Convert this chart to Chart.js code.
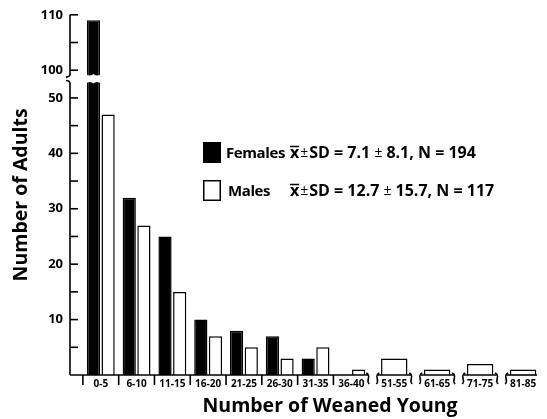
<!DOCTYPE html>
<html>
<head>
<meta charset="utf-8">
<script src="https://cdn.jsdelivr.net/npm/chart.js@4.4.1/dist/chart.umd.min.js"></script>
<style>
    html, body { margin: 0; padding: 0; background: #fff; }
</style>
</head>
<body>
<canvas id="weanedChart" width="547" height="419"></canvas>
<script>
// bins of weaned young, counts of adults per sex
const categories = ['0-5', '6-10', '11-15', '16-20', '21-25', '26-30', '31-35', '36-40', '51-55', '61-65', '71-75', '81-85'];
const females = [109, 32, 25, 10, 8, 7, 3, 0, null, null, null, null];
const males = [47, 27, 15, 7, 5, 3, 5, 1, 3, 1, 2, 1];

// y axis ticks (real values) and the ones that get a number
const yTicks = [5, 10, 15, 20, 25, 30, 35, 40, 45, 50, 100, 105, 110];
const yLabelled = [10, 20, 30, 40, 50, 100, 110];

const legendRows = [
    { label: 'Females', mean: '7.1', sd: '8.1', n: '194', filled: true },
    { label: 'Males', mean: '12.7', sd: '15.7', n: '117', filled: false }
];

// y axis is cut between 50 and 100
const BREAK_FROM = 50;
const BREAK_TO = 100;
const BREAK_GAP = 5;
const toAxis = v => (v === null ? null : v >= BREAK_TO ? v - (BREAK_TO - BREAK_FROM) + BREAK_GAP : v);

// x axis: contiguous bins are one unit apart, a gap in the ranges adds a little extra
const BREAK_EXTRA = 0.2;
const LEAD_GAP = 0.36; // space between the y axis and the first bin
const binLo = i => Number(categories[i].split('-')[0]);
const binHi = i => Number(categories[i].split('-')[1]);
const contiguous = categories.map((c, i) => i > 0 && binLo(i) === binHi(i - 1) + 1);
const binPos = [];
categories.forEach((c, i) => {
    if (i === 0) binPos.push(0);
    else binPos.push(binPos[i - 1] + (contiguous[i] ? 1 : 1 + BREAK_EXTRA));
});

const FONT = '"Open Sans", "DejaVu Sans", sans-serif';

const brokenAxes = {
    id: 'brokenAxes',
    afterDatasetsDraw(chart) {
        const { ctx, chartArea } = chart;
        const x = chart.scales.x;
        const y = chart.scales.y;
        const axisX = chartArea.left;
        const y0 = y.getPixelForValue(0);

        ctx.save();
        ctx.strokeStyle = '#000';
        ctx.lineWidth = 1.6;

        // white cut through the tall bar
        const gapTop = y.getPixelForValue(toAxis(BREAK_FROM) + 4.3);
        const gapBot = y.getPixelForValue(toAxis(BREAK_FROM) + 2.6);
        const bar = chart.getDatasetMeta(0).data[0];
        const bx0 = bar.x - bar.width / 2 - 1;
        const bx1 = bar.x + bar.width / 2 + 1;
        const bw = bx1 - bx0;
        ctx.fillStyle = '#fff';
        ctx.beginPath();
        ctx.moveTo(bx0, gapTop);
        ctx.quadraticCurveTo(bx0 + bw * 0.25, gapTop + 3, bx0 + bw * 0.5, gapTop);
        ctx.quadraticCurveTo(bx0 + bw * 0.75, gapTop + 3, bx1, gapTop);
        ctx.lineTo(bx1, gapBot);
        ctx.quadraticCurveTo(bx0 + bw * 0.75, gapBot - 3, bx0 + bw * 0.5, gapBot);
        ctx.quadraticCurveTo(bx0 + bw * 0.25, gapBot - 3, bx0, gapBot);
        ctx.closePath();
        ctx.fill();

        // y axis in two pieces with small curls at the cut
        ctx.beginPath();
        ctx.moveTo(axisX, y.getPixelForValue(y.max));
        ctx.lineTo(axisX, gapTop);
        ctx.quadraticCurveTo(axisX, gapTop + 3, axisX - 4, gapTop + 3);
        ctx.moveTo(axisX - 4, gapBot - 3);
        ctx.quadraticCurveTo(axisX, gapBot - 3, axisX, gapBot);
        ctx.lineTo(axisX, y0);
        ctx.stroke();

        // y ticks point into the plot
        y.ticks.forEach(t => {
            const py = y.getPixelForValue(t.value);
            ctx.beginPath();
            ctx.moveTo(axisX, py);
            ctx.lineTo(axisX + 8, py);
            ctx.stroke();
        });

        // x axis, one segment per contiguous run
        const half = (x.getPixelForValue(1) - x.getPixelForValue(0)) / 2;
        const brace = (bx, dir) => {
            ctx.beginPath();
            ctx.moveTo(bx - dir * 2, y0 - 2);
            ctx.bezierCurveTo(bx + dir * 4, y0 + 1, bx - dir * 3, y0 + 5, bx + dir * 1, y0 + 9);
            ctx.stroke();
        };
        let segStart = axisX;
        categories.forEach((c, i) => {
            const left = x.getPixelForValue(binPos[i]) - half;
            const right = x.getPixelForValue(binPos[i]) + half;
            if (i > 0 && !contiguous[i]) {
                segStart = left + 1;
                brace(segStart, -1);
            }
            if (i === 0 || contiguous[i]) {
                ctx.beginPath();
                ctx.moveTo(left, y0);
                ctx.lineTo(left, y0 + 10);
                ctx.stroke();
            }
            const last = i === categories.length - 1;
            if (last || !contiguous[i + 1]) {
                const segEnd = last ? right - 4 : right - 1;
                ctx.beginPath();
                ctx.moveTo(segStart, y0);
                ctx.lineTo(segEnd, y0);
                ctx.stroke();
                if (!last) brace(segEnd, 1);
            }
        });
        ctx.restore();
    },
    afterDraw(chart) {
        const { ctx } = chart;
        ctx.save();
        ctx.fillStyle = '#000';
        ctx.strokeStyle = '#000';
        ctx.lineWidth = 1.5;
        ctx.textBaseline = 'alphabetic';

        // x axis title, centred a little right of the plot centre as in the original
        ctx.textAlign = 'center';
        ctx.font = 'bold 19.5px ' + FONT;
        ctx.fillText('Number of Weaned Young', 330, 412);
        ctx.textAlign = 'left';

        legendRows.forEach((row, i) => {
            const cy = 152.5 + i * 38;
            if (row.filled) {
                ctx.fillRect(203, cy - 10.5, 18, 21);
            } else {
                ctx.strokeRect(203.75, cy - 9.75, 16.5, 19.5);
            }
            const base = cy + 5.5;
            ctx.font = 'bold 15px ' + FONT;
            ctx.letterSpacing = '-0.4px';
            ctx.fillText(row.label, 226 + i * 2, base);
            ctx.letterSpacing = '0px';

            // x-bar with plus/minus
            let sx = 290;
            ctx.font = 'bold 16px ' + FONT;
            ctx.fillText('x', sx, base);
            const xw = ctx.measureText('x').width;
            ctx.beginPath();
            ctx.moveTo(sx, base - 11.5);
            ctx.lineTo(sx + xw, base - 11.5);
            ctx.stroke();
            sx += xw + 1;
            ctx.font = '14px ' + FONT;
            ctx.fillText('\u00B1', sx, base - 1);
            sx += ctx.measureText('\u00B1').width + 1;
            ctx.font = 'bold 16px ' + FONT;
            const rest = 'SD = ' + row.mean + ' ';
            ctx.fillText(rest, sx, base);
            sx += ctx.measureText(rest).width;
            ctx.font = '14px ' + FONT;
            ctx.fillText('\u00B1', sx, base - 1);
            sx += ctx.measureText('\u00B1').width + 4;
            ctx.font = 'bold 16px ' + FONT;
            ctx.fillText(row.sd + ', N = ' + row.n, sx, base);
        });
        ctx.restore();
    }
};

new Chart(document.getElementById('weanedChart'), {
    type: 'bar',
    data: {
        datasets: [
            {
                label: 'Females',
                data: females.map((v, i) => ({ x: binPos[i], y: toAxis(v) })),
                backgroundColor: '#000',
                borderColor: '#000',
                borderWidth: 1.5
            },
            {
                label: 'Males',
                data: males.map((v, i) => ({ x: binPos[i], y: toAxis(v) })),
                backgroundColor: '#fff',
                borderColor: '#000',
                borderWidth: 1.5
            }
        ]
    },
    options: {
        responsive: false,
        animation: false,
        skipNull: true,
        barPercentage: 0.9,
        categoryPercentage: 0.82,
        layout: { padding: { top: 0, right: 6, left: 0, bottom: 0 } },
        plugins: {
            legend: { display: false },
            tooltip: { enabled: false }
        },
        scales: {
            x: {
                type: 'linear',
                offset: false,
                min: -0.5 - LEAD_GAP,
                max: binPos[binPos.length - 1] + 0.5,
                grid: { display: false, drawTicks: false, offset: false },
                border: { display: false },
                afterBuildTicks: scale => {
                    scale.ticks = binPos.map(v => ({ value: v }));
                },
                afterFit: scale => {
                    scale.height = 44;
                },
                ticks: {
                    autoSkip: false,
                    maxRotation: 0,
                    padding: 3,
                    color: '#000',
                    font: { family: FONT, size: 10, weight: 'bold' },
                    callback: (value, index) => categories[index]
                }
            },
            y: {
                min: 0,
                max: toAxis(yTicks[yTicks.length - 1]),
                grid: { display: false, drawTicks: false },
                border: { display: false },
                afterBuildTicks: scale => {
                    scale.ticks = yTicks.map(v => ({ value: toAxis(v) }));
                },
                afterFit: scale => {
                    scale.width = 70;
                },
                ticks: {
                    padding: 7,
                    color: '#000',
                    font: { family: FONT, size: 13, weight: 'bold' },
                    callback: (value, index) => (yLabelled.includes(yTicks[index]) ? yTicks[index] : '')
                },
                title: {
                    display: true,
                    text: 'Number of Adults',
                    color: '#000',
                    font: { family: FONT, size: 19.5, weight: 'bold' },
                    padding: { top: 10, bottom: 0 }
                }
            }
        }
    },
    plugins: [brokenAxes]
});
</script>
</body>
</html>
